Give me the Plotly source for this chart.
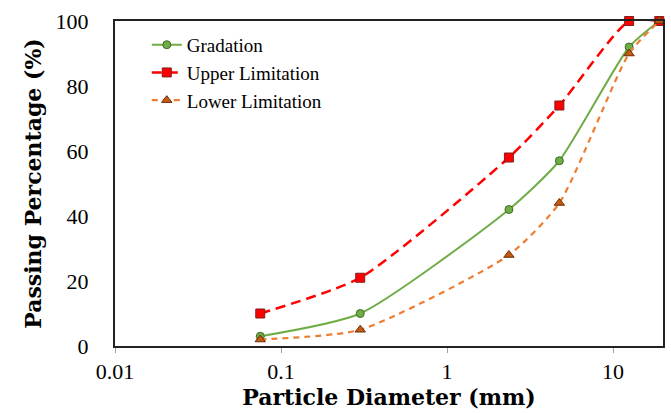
import plotly.graph_objects as go

diameter = [0.075, 0.3, 2.36, 4.75, 12.5, 19]
gradation = [3, 10, 42, 57, 92, 100]
upper_limit = [10, 21, 58, 74, 100, 100]
lower_limit = [2, 5, 28, 44, 90, 100]

x_ticks = [0.01, 0.1, 1, 10]
x_tick_text = ["0.01", "0.1", "1", "10"]
y_ticks = [0, 20, 40, 60, 80, 100]

fig = go.Figure()
fig.add_trace(go.Scatter(
    x=diameter, y=gradation, name="Gradation", mode="lines+markers",
    line=dict(color="#70AD47", width=2, shape="spline", smoothing=0.6),
    marker=dict(symbol="circle", size=8, color="#70AD47", line=dict(color="#3D6B22", width=1)),
    cliponaxis=False,
))
fig.add_trace(go.Scatter(
    x=diameter, y=upper_limit, name="Upper Limitation", mode="lines+markers",
    line=dict(color="#FF0000", width=2.5, dash="10px,6px", shape="spline", smoothing=0.6),
    marker=dict(symbol="square", size=9, color="#FF0000", line=dict(color="#7F1F1F", width=1)),
    cliponaxis=False,
))
fig.add_trace(go.Scatter(
    x=diameter, y=lower_limit, name="Lower Limitation", mode="lines+markers",
    line=dict(color="#ED7D31", width=2.2, dash="6px,5px", shape="spline", smoothing=0.6),
    marker=dict(symbol="triangle-up", size=9, color="#C55A11", line=dict(color="#6B2E08", width=1)),
    cliponaxis=False,
))

fig.update_layout(
    width=671, height=413,
    margin=dict(l=115, r=8, t=21, b=67, autoexpand=False),
    paper_bgcolor="white", plot_bgcolor="white",
    font=dict(family="Liberation Serif", color="black"),
    showlegend=True,
    legend=dict(x=0.058, y=0.985, xanchor="left", yanchor="top",
                bgcolor="rgba(0,0,0,0)", font=dict(size=19, family="Liberation Serif"),
                itemwidth=30),
    xaxis=dict(
        type="log", range=[-2, 1.301], automargin=False,
        tickvals=x_ticks, ticktext=x_tick_text,
        ticks="outside", ticklen=5, tickcolor="#A0A0A0",
        showgrid=False, zeroline=False,
        showline=True, linecolor="#222", linewidth=2, mirror=True,
        tickfont=dict(size=22, family="Liberation Serif"),
        title=dict(text="<b>Particle Diameter (mm)</b>", font=dict(size=22, family="DejaVu Serif"), standoff=0),
    ),
    yaxis=dict(
        range=[0, 100], tickvals=y_ticks, automargin=False,
        ticks="", showgrid=False, zeroline=False,
        showline=True, linecolor="#222", linewidth=2, mirror=True,
        tickfont=dict(size=22, family="Liberation Serif"),
        ticklabelstandoff=20,
        title=dict(text="<b>Passing Percentage (%)</b>", font=dict(size=22, family="DejaVu Serif"), standoff=8),
    ),
)

fig.write_html("out.html", config={"displayModeBar": False},
               post_script="document.body.style.margin='0';document.body.style.overflow='hidden';")
